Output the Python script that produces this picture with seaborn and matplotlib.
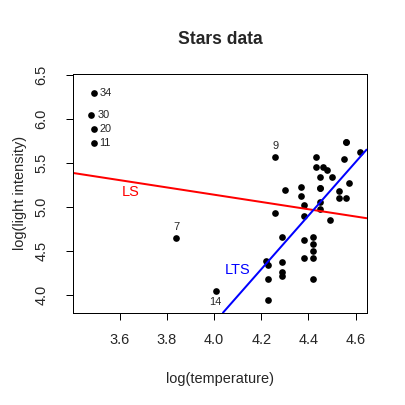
import matplotlib
matplotlib.use("Agg")
import matplotlib.pyplot as plt
import seaborn as sns
import pandas as pd
import numpy as np

# CYG OB1 star cluster (starsCYG)
log_te = [4.37, 4.56, 4.26, 4.56, 4.30, 4.46, 3.84, 4.57, 4.26, 4.37,
          3.49, 4.43, 4.48, 4.01, 4.29, 4.42, 4.23, 4.42, 4.23, 3.49,
          4.29, 4.29, 4.42, 4.49, 4.38, 4.42, 4.29, 4.38, 4.22, 3.48,
          4.38, 4.56, 4.45, 3.49, 4.23, 4.62, 4.53, 4.45, 4.53, 4.43,
          4.38, 4.45, 4.50, 4.45, 4.55, 4.45, 4.42]
log_light = [5.23, 5.74, 4.93, 5.74, 5.19, 5.46, 4.65, 5.27, 5.57, 5.12,
             5.73, 5.45, 5.42, 4.05, 4.26, 4.58, 3.94, 4.18, 4.18, 5.89,
             4.38, 4.22, 4.42, 4.85, 5.02, 4.66, 4.66, 4.90, 4.39, 6.05,
             4.42, 5.10, 5.22, 6.29, 4.34, 5.62, 5.10, 5.22, 5.18, 5.57,
             4.62, 5.06, 5.34, 5.34, 5.54, 4.98, 4.50]

labels_right = [11, 20, 30, 34]
labels_above = [7, 9]
labels_below = [14]

lts_coef = (-8.500, 3.046)

df = pd.DataFrame({"log.Te": log_te, "log.light": log_light})
df["id"] = np.arange(1, len(df) + 1)

ls_slope, ls_int = np.polyfit(df["log.Te"], df["log.light"], 1)

sns.set_style("white")
plt.rcParams["font.family"] = ["Liberation Sans", "DejaVu Sans"]

fig = plt.figure(figsize=(405 / 72, 405 / 72), dpi=72)
ax = fig.add_axes([0.181, 0.228, 0.724, 0.589])

sns.scatterplot(data=df, x="log.Te", y="log.light", color="black",
                s=45, linewidth=0, ax=ax)

ax.axline((0, ls_int), slope=ls_slope, color="red", lw=2)
ax.axline((0, lts_coef[0]), slope=lts_coef[1], color="blue", lw=2)

for i in labels_right:
    r = df.iloc[i - 1]
    ax.annotate(str(i), (r["log.Te"], r["log.light"]), xytext=(6, 0),
                textcoords="offset points", ha="left", va="center", fontsize=11)
for i in labels_above:
    r = df.iloc[i - 1]
    ax.annotate(str(i), (r["log.Te"], r["log.light"]), xytext=(0, 6),
                textcoords="offset points", ha="center", va="bottom", fontsize=11)
for i in labels_below:
    r = df.iloc[i - 1]
    ax.annotate(str(i), (r["log.Te"], r["log.light"]), xytext=(-1, -6),
                textcoords="offset points", ha="center", va="top", fontsize=11)

ax.text(3.646, 5.17, "LS", color="red", fontsize=14.5, ha="center", va="center")
ax.text(4.10, 4.28, "LTS", color="blue", fontsize=14.5, ha="center", va="center")

ax.set_xlim(3.404, 4.646)
ax.set_ylim(3.8, 6.51)
ax.set_xticks([3.6, 3.8, 4.0, 4.2, 4.4, 4.6])
ax.set_yticks([4.0, 4.5, 5.0, 5.5, 6.0, 6.5])
ax.set_yticklabels(["4.0", "4.5", "5.0", "5.5", "6.0", "6.5"],
                   rotation=90, va="center")
ax.tick_params(axis="both", direction="out", length=7, width=1,
               color="black", labelsize=14.5, bottom=True, left=True)
ax.tick_params(axis="x", pad=13)
ax.tick_params(axis="y", pad=18)
for s in ax.spines.values():
    s.set_color("black")
    s.set_linewidth(1)

ax.set_xlabel("log(temperature)", fontsize=14.5, labelpad=25)
ax.set_ylabel("log(light intensity)", fontsize=14.5, labelpad=7)
ax.set_title("Stars data", fontsize=17.5, fontweight="bold", pad=30)

fig.savefig("out.png", dpi=72, facecolor="white")
